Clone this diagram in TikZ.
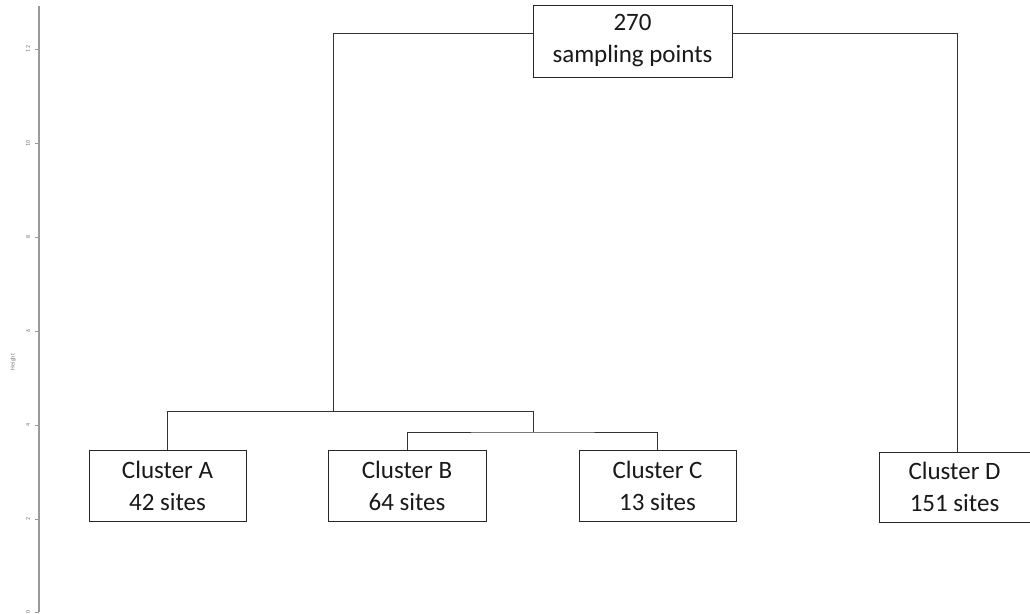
\documentclass[tikz,border=0pt]{standalone}
\usepackage{fontspec}
\setmainfont{Carlito}
\begin{document}
\begin{tikzpicture}[x=1pt,y=-1pt,
  box/.style={draw=black!85,line width=0.9pt,fill=white,inner sep=0pt,align=center,
    font=\fontsize{25}{32}\selectfont,text=black!90},
  link/.style={draw=black!80,line width=0.9pt},
  axis/.style={draw=black!40,line width=1.3pt},
  ticklab/.style={font=\fontsize{6}{7}\selectfont,text=black!55,rotate=90,inner sep=0pt}]
\useasboundingbox (0,0) rectangle (1030,613);
% axis
\draw[axis] (39,6) -- (39,612);
\foreach \v/\y in {12/49,10/143,8/237,6/331,4/425,2/519,0/612}{
  \draw[axis,line width=0.7pt] (35,\y) -- (39,\y);
  \node[ticklab] (t\v) at (28,\y) {\v};
}
\node[ticklab] (hl) at (13,362) {Height};
% nodes
\node[box,minimum width=199pt,minimum height=72pt] (top) at (632.5,41) {270\\sampling points};
\node[box,minimum width=157pt,minimum height=71pt] (A) at (167.5,485.5) {Cluster A\\42 sites};
\node[box,minimum width=158pt,minimum height=71pt] (B) at (407,485.5) {Cluster B\\64 sites};
\node[box,minimum width=157pt,minimum height=71pt] (C) at (657.5,485.5) {Cluster C\\13 sites};
\node[box,minimum width=151pt,minimum height=70pt] (D) at (954.5,487) {Cluster D\\151 sites};
% junctions
\coordinate (tl) at (533,33);
\coordinate (tr) at (732,33);
\coordinate (j1) at (333,411);
\coordinate (j2) at (533,411);
\coordinate (j3) at (533,432);
\coordinate (dtop) at (957,452);
% links
\draw[link] (tl) -| (j1);
\draw[link] (tr) -| (dtop);
\draw[link] (A.north) |- (j2) -- (j3);
\draw[link] (B.north) |- (j3) -| (C.north);
\end{tikzpicture}
\end{document}
